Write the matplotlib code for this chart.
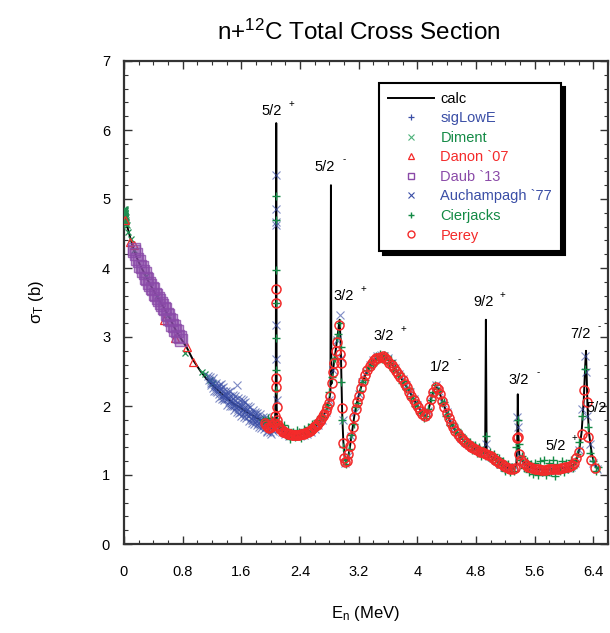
import matplotlib
matplotlib.use("Agg")
import matplotlib.pyplot as plt
from matplotlib.lines import Line2D
from matplotlib.ticker import MultipleLocator

plt.rcParams['font.family'] = ['Liberation Sans', 'DejaVu Sans']
plt.rcParams['mathtext.fontset'] = 'custom'
plt.rcParams['mathtext.rm'] = 'Liberation Sans'
plt.rcParams['mathtext.it'] = 'Liberation Sans'

# ---------------- data ----------------
calc_E = [0.00, 0.04, 0.08, 0.12, 0.17, 0.22, 0.26, 0.32, 0.40, 0.47, 0.54, 0.62, 0.72, 0.80,
          0.86, 0.94, 1.04, 1.12, 1.20, 1.30, 1.40, 1.50, 1.58, 1.66, 1.74, 1.82, 1.90, 1.98,
          2.03, 2.06, 2.070, 2.076, 2.082, 2.09, 2.10, 2.14, 2.18, 2.22, 2.26, 2.30, 2.34, 2.38,
          2.42, 2.46, 2.50, 2.54, 2.58, 2.62, 2.66, 2.70, 2.74, 2.77, 2.80, 2.815, 2.822, 2.828,
          2.84, 2.86, 2.88, 2.90, 2.92, 2.94, 2.955, 2.965, 2.975, 2.99, 3.01, 3.03, 3.05, 3.08,
          3.11, 3.14, 3.17, 3.20, 3.24, 3.28, 3.32, 3.36, 3.40, 3.44, 3.48, 3.52, 3.56, 3.60,
          3.64, 3.68, 3.72, 3.76, 3.80, 3.84, 3.88, 3.92, 3.96, 4.00, 4.04, 4.08, 4.11, 4.14,
          4.17, 4.20, 4.23, 4.26, 4.29, 4.32, 4.36, 4.40, 4.44, 4.48, 4.52, 4.56, 4.60, 4.64,
          4.68, 4.72, 4.76, 4.80, 4.84, 4.88, 4.925, 4.935, 4.945, 4.96, 5.00, 5.04, 5.08, 5.12,
          5.16, 5.20, 5.24, 5.28, 5.32, 5.35, 5.362, 5.37, 5.378, 5.39, 5.41, 5.43, 5.46, 5.50,
          5.55, 5.60, 5.65, 5.70, 5.75, 5.80, 5.85, 5.90, 5.95, 6.00, 6.05, 6.10, 6.14, 6.18,
          6.21, 6.24, 6.27, 6.29, 6.30, 6.31, 6.32, 6.34, 6.36, 6.38, 6.41, 6.45]
calc_sig = [4.76, 4.62, 4.46, 4.31, 4.16, 4.04, 3.96, 3.83, 3.68, 3.55, 3.43, 3.28, 3.07, 2.94,
            2.84, 2.67, 2.51, 2.40, 2.31, 2.21, 2.12, 2.03, 1.98, 1.92, 1.87, 1.82, 1.77, 1.73,
            1.72, 1.78, 2.2, 6.10, 2.0, 1.74, 1.70, 1.66, 1.63, 1.61, 1.60, 1.59, 1.58, 1.58,
            1.59, 1.60, 1.62, 1.64, 1.67, 1.71, 1.76, 1.82, 1.90, 1.97, 2.10, 2.20, 5.20, 2.32,
            2.40, 2.60, 2.75, 2.92, 3.10, 3.25, 2.90, 2.40, 1.90, 1.50, 1.25, 1.19, 1.22, 1.40,
            1.62, 1.85, 2.02, 2.15, 2.30, 2.42, 2.52, 2.60, 2.65, 2.69, 2.71, 2.72, 2.71, 2.67,
            2.62, 2.56, 2.50, 2.43, 2.37, 2.30, 2.23, 2.16, 2.08, 2.01, 1.94, 1.87, 1.84, 1.90,
            2.02, 2.15, 2.24, 2.27, 2.24, 2.14, 2.02, 1.90, 1.79, 1.71, 1.64, 1.58, 1.53, 1.49,
            1.45, 1.42, 1.39, 1.37, 1.35, 1.33, 1.32, 3.25, 1.31, 1.30, 1.27, 1.24, 1.21, 1.18,
            1.15, 1.12, 1.10, 1.09, 1.09, 1.15, 1.50, 2.17, 1.60, 1.30, 1.24, 1.22, 1.17, 1.13,
            1.11, 1.09, 1.08, 1.08, 1.08, 1.08, 1.09, 1.09, 1.10, 1.10, 1.11, 1.13, 1.16, 1.25,
            1.38, 1.62, 2.10, 2.60, 2.80, 2.40, 2.00, 1.62, 1.45, 1.30, 1.18, 1.10]

sigLowE_E = [0.001, 0.003, 0.005, 0.007]
sigLowE_sig = [4.76, 4.80, 4.73, 4.78]

diment_E = [0.001, 0.002, 0.003, 0.004, 0.005, 0.006, 0.007, 0.008, 0.009, 0.010, 0.011, 0.012,
            0.013, 0.014, 0.015, 0.016, 0.017, 0.018, 0.019, 0.020, 0.022, 0.025, 0.028, 0.030,
            0.040, 0.060, 0.090, 0.140, 0.300, 0.450, 0.600, 0.830, 1.060, 1.100, 1.170, 1.220]
diment_sig = [4.78, 4.82, 4.70, 4.86, 4.74, 4.78, 4.66, 4.85, 4.72, 4.74, 4.83, 4.80,
              4.69, 4.68, 4.79, 4.76, 4.84, 4.72, 4.67, 4.80, 4.74, 4.70, 4.64, 4.66,
              4.62, 4.52, 4.42, 4.26, 3.88, 3.60, 3.32, 2.77, 2.50, 2.46, 2.38, 2.33]

danon_E = [0.014, 0.08, 0.13, 0.54, 0.70, 0.855, 0.945]
danon_sig = [4.70, 4.38, 4.33, 3.25, 2.98, 2.86, 2.64]

daub_E = [0.13, 0.14, 0.16, 0.18, 0.20, 0.22, 0.24, 0.26, 0.28, 0.30, 0.32, 0.34, 0.36, 0.38,
          0.40, 0.42, 0.44, 0.46, 0.48, 0.50, 0.52, 0.54, 0.56, 0.58, 0.60, 0.62, 0.64, 0.66,
          0.68, 0.70, 0.72, 0.74, 0.76, 0.78]
daub_sig = [4.27, 4.25, 4.20, 4.13, 4.10, 4.03, 4.01, 3.95, 3.93, 3.86, 3.84, 3.78, 3.76, 3.71,
            3.69, 3.63, 3.61, 3.56, 3.54, 3.49, 3.47, 3.42, 3.40, 3.34, 3.32, 3.26, 3.24, 3.18,
            3.16, 3.10, 3.08, 3.02, 3.00, 2.95]

auch_E = [1.15, 1.16, 1.17, 1.18, 1.18, 1.19, 1.20, 1.21, 1.22, 1.23, 1.24, 1.25, 1.26, 1.26,
          1.27, 1.28, 1.29, 1.30, 1.30, 1.31, 1.32, 1.32, 1.33, 1.34, 1.35, 1.35, 1.36, 1.36,
          1.37, 1.38, 1.39, 1.40, 1.40, 1.41, 1.42, 1.42, 1.43, 1.44, 1.45, 1.45, 1.46, 1.46,
          1.47, 1.48, 1.49, 1.50, 1.50, 1.51, 1.52, 1.52, 1.53, 1.54, 1.54, 1.55, 1.55, 1.56,
          1.56, 1.57, 1.58, 1.59, 1.60, 1.60, 1.61, 1.62, 1.62, 1.62, 1.63, 1.64, 1.65, 1.65,
          1.66, 1.66, 1.67, 1.68, 1.69, 1.70, 1.70, 1.71, 1.72, 1.72, 1.73, 1.74, 1.74, 1.75,
          1.76, 1.76, 1.76, 1.77, 1.78, 1.79, 1.80, 1.81, 1.81, 1.82, 1.82, 1.83, 1.84, 1.85,
          1.86, 1.86, 1.86, 1.87, 1.88, 1.89, 1.90, 1.91, 1.92, 1.92, 1.93, 1.94, 1.95, 1.95,
          1.96, 1.96, 1.97, 1.98, 1.99, 2.00, 2.01, 2.01, 2.02, 2.02, 2.03, 2.04, 2.05, 2.06,
          2.075, 2.076, 2.077, 2.078, 2.078, 2.079, 2.080, 2.12, 2.16, 2.20, 2.25,
          2.30, 2.35, 2.40, 2.45, 2.50, 2.55, 2.60, 2.65, 2.70, 2.75, 2.80, 2.85, 2.90, 2.94,
          2.96, 2.98, 3.02, 3.06, 3.10, 3.15, 3.20, 3.25, 3.30, 3.35, 3.40, 3.45, 3.50, 3.55,
          3.60, 3.65, 3.70, 3.75, 3.80, 3.85, 3.90, 3.95, 4.00, 4.05, 4.10, 4.15, 4.20, 4.25,
          4.30, 4.35, 4.40, 4.45, 4.50, 4.55, 4.60, 4.65, 4.70, 4.75, 4.80, 4.85, 4.90, 4.935,
          4.98, 5.03, 5.08, 5.13, 5.18, 5.23, 5.28, 5.33, 5.365, 5.375, 5.40, 5.45, 5.50, 5.55,
          5.60, 5.65, 5.70, 5.75, 5.80, 5.85, 5.90, 5.95, 6.00, 6.05, 6.10, 6.15, 6.20, 6.25,
          6.29, 6.30, 6.32, 6.35, 6.40, 6.45]
auch_sig = [2.44, 2.38, 2.42, 2.30, 2.33, 2.36, 2.34, 2.40, 2.26, 2.22, 2.31, 2.34, 2.22, 2.27,
            2.20, 2.28, 2.30, 2.18, 2.12, 2.25, 2.32, 2.26, 2.15, 2.10, 2.22, 2.28, 2.12, 2.16,
            2.08, 2.18, 2.22, 2.10, 2.02, 2.16, 2.20, 2.12, 2.06, 2.00, 2.14, 2.22, 2.04, 2.08,
            2.00, 2.10, 2.16, 2.00, 1.94, 2.08, 2.14, 2.03, 1.98, 2.30, 1.92, 2.05, 2.12, 1.96,
            2.00, 1.90, 2.02, 2.10, 1.92, 1.86, 2.00, 2.08, 2.04, 1.96, 1.90, 1.84, 1.98, 2.06,
            1.88, 1.94, 1.82, 1.95, 2.00, 1.85, 1.78, 1.92, 1.98, 1.88, 1.83, 1.76, 1.80, 1.90,
            1.80, 1.94, 1.84, 1.74, 1.88, 1.92, 1.78, 1.85, 1.72, 1.90, 1.80, 1.76, 1.70, 1.82,
            1.74, 1.88, 1.78, 1.68, 1.80, 1.84, 1.72, 1.66, 1.78, 1.74, 1.84, 1.70, 1.62, 1.64,
            1.76, 1.72, 1.80, 1.68, 1.62, 1.74, 1.60, 1.80, 1.66, 1.70, 1.64, 1.72, 1.76, 1.78,
            5.35, 4.86, 4.67, 4.62, 3.17, 2.68, 2.09, 1.66, 1.62, 1.60, 1.57,
            1.56, 1.57, 1.56, 1.58, 1.60, 1.63, 1.67, 1.73, 1.80, 1.91, 2.08, 2.52, 2.95, 3.32,
            2.70, 1.80, 1.17, 1.28, 1.56, 1.92, 2.17, 2.35, 2.50, 2.60, 2.67, 2.72, 2.74, 2.73,
            2.69, 2.62, 2.55, 2.46, 2.39, 2.30, 2.20, 2.10, 2.02, 1.93, 1.86, 1.93, 2.16, 2.30,
            2.22, 2.05, 1.92, 1.78, 1.68, 1.60, 1.54, 1.48, 1.44, 1.40, 1.38, 1.35, 1.33, 1.45,
            1.28, 1.24, 1.20, 1.16, 1.12, 1.09, 1.08, 1.12, 1.84, 1.70, 1.28, 1.16, 1.12, 1.10,
            1.08, 1.06, 1.07, 1.05, 1.07, 1.08, 1.08, 1.09, 1.09, 1.10, 1.12, 1.18, 1.36, 1.95,
            2.72, 2.50, 1.85, 1.45, 1.18, 1.08]

cier_E = [1.90, 1.93, 1.96, 1.99, 2.02, 2.05, 2.071, 2.073, 2.074, 2.075, 2.076, 2.077, 2.078,
          2.09, 2.12, 2.15, 2.18, 2.21, 2.24, 2.27, 2.30, 2.33, 2.36, 2.39, 2.42, 2.45, 2.48,
          2.51, 2.54, 2.57, 2.60, 2.63, 2.66, 2.69, 2.72, 2.75, 2.78, 2.80, 2.84, 2.86, 2.88,
          2.90, 2.92, 2.94, 2.955, 2.965, 2.975, 2.99, 3.01, 3.03, 3.05, 3.07, 3.10, 3.13, 3.16,
          3.19, 3.22, 3.25, 3.28, 3.31, 3.34, 3.37, 3.40, 3.43, 3.46, 3.49, 3.52, 3.55, 3.58,
          3.61, 3.64, 3.67, 3.70, 3.73, 3.76, 3.79, 3.82, 3.85, 3.88, 3.91, 3.94, 3.97, 4.00,
          4.03, 4.06, 4.09, 4.12, 4.15, 4.18, 4.21, 4.24, 4.27, 4.30, 4.33, 4.36, 4.39, 4.42,
          4.45, 4.48, 4.51, 4.54, 4.57, 4.60, 4.63, 4.66, 4.69, 4.72, 4.75, 4.78, 4.81, 4.84,
          4.87, 4.90, 4.935, 4.96, 4.99, 5.02, 5.05, 5.08, 5.11, 5.14, 5.17, 5.20, 5.23, 5.26,
          5.29, 5.32, 5.35, 5.37, 5.385, 5.40, 5.43, 5.46, 5.49, 5.52, 5.55, 5.58, 5.61, 5.64,
          5.67, 5.70, 5.73, 5.76, 5.79, 5.82, 5.85, 5.88, 5.91, 5.94, 5.97, 6.00, 6.03, 6.06,
          6.09, 6.12, 6.15, 6.18, 6.21, 6.24, 6.29, 6.33, 6.36, 6.39, 6.43, 6.46]
cier_sig = [1.80, 1.77, 1.82, 1.74, 1.79, 1.76, 2.23, 2.52, 2.98, 3.49, 3.97, 4.70, 5.05,
            1.78, 1.74, 1.70, 1.73, 1.58, 1.66, 1.52, 1.63, 1.55, 1.65, 1.62, 1.53, 1.66, 1.60,
            1.70, 1.62, 1.74, 1.68, 1.80, 1.74, 1.86, 1.84, 1.98, 2.02, 2.20, 2.42, 2.68, 2.70,
            2.98, 3.05, 3.20, 2.85, 2.35, 1.80, 1.40, 1.22, 1.16, 1.26, 1.38, 1.58, 1.74, 1.98,
            2.05, 2.22, 2.35, 2.38, 2.52, 2.56, 2.64, 2.60, 2.72, 2.66, 2.76, 2.68, 2.74, 2.72,
            2.62, 2.66, 2.52, 2.56, 2.44, 2.48, 2.34, 2.36, 2.24, 2.26, 2.12, 2.14, 2.00, 2.04,
            1.90, 1.92, 1.82, 1.86, 1.96, 2.08, 2.20, 2.30, 2.22, 2.22, 2.04, 2.06, 1.86, 1.88,
            1.72, 1.76, 1.62, 1.66, 1.54, 1.60, 1.46, 1.52, 1.42, 1.48, 1.36, 1.44, 1.32, 1.40,
            1.28, 1.36, 1.56, 1.26, 1.34, 1.22, 1.30, 1.16, 1.24, 1.12, 1.20, 1.06, 1.16, 1.04,
            1.12, 1.06, 1.40, 1.80, 1.45, 1.22, 1.28, 1.10, 1.20, 1.04, 1.16, 1.02, 1.18, 1.00,
            1.20, 1.04, 1.22, 1.00, 1.18, 1.04, 1.22, 0.98, 1.16, 1.06, 1.20, 1.04, 1.18, 1.08,
            1.22, 1.10, 1.20, 1.30, 1.48, 1.85, 2.53, 1.70, 1.32, 1.20, 1.06, 1.12]

perey_E = [1.92, 1.94, 1.96, 1.98, 2.00, 2.02, 2.04, 2.055, 2.068, 2.070, 2.074, 2.076, 2.080,
           2.085, 2.095, 2.11, 2.13, 2.15, 2.17, 2.19, 2.21, 2.23, 2.25, 2.27, 2.29, 2.31, 2.33,
           2.35, 2.37, 2.39, 2.41, 2.43, 2.45, 2.47, 2.49, 2.51, 2.53, 2.55, 2.57, 2.59, 2.61,
           2.63, 2.65, 2.67, 2.69, 2.71, 2.73, 2.75, 2.77, 2.79, 2.81, 2.83, 2.85, 2.87, 2.89,
           2.91, 2.93, 2.95, 2.96, 2.97, 2.985, 3.00, 3.02, 3.04, 3.06, 3.08, 3.10, 3.12, 3.14,
           3.16, 3.18, 3.20, 3.23, 3.26, 3.29, 3.32, 3.35, 3.38, 3.41, 3.44, 3.47, 3.50, 3.53,
           3.56, 3.59, 3.62, 3.65, 3.68, 3.71, 3.74, 3.77, 3.80, 3.83, 3.86, 3.89, 3.92, 3.95,
           3.98, 4.01, 4.04, 4.07, 4.10, 4.13, 4.16, 4.19, 4.22, 4.25, 4.28, 4.31, 4.34, 4.37,
           4.40, 4.43, 4.46, 4.49, 4.52, 4.55, 4.58, 4.61, 4.64, 4.67, 4.70, 4.73, 4.76, 4.79,
           4.82, 4.85, 4.88, 4.91, 4.94, 4.97, 5.00, 5.03, 5.06, 5.09, 5.12, 5.15, 5.18, 5.21,
           5.24, 5.27, 5.30, 5.33, 5.36, 5.37, 5.39, 5.42, 5.45, 5.48, 5.51, 5.54, 5.57, 5.60,
           5.63, 5.66, 5.69, 5.72, 5.75, 5.78, 5.81, 5.84, 5.87, 5.90, 5.93, 5.96, 5.99, 6.02,
           6.05, 6.08, 6.11, 6.14, 6.17, 6.20, 6.24, 6.276, 6.31, 6.325, 6.37, 6.42]
perey_sig = [1.76, 1.72, 1.70, 1.68, 1.70, 1.73, 1.76, 1.85, 2.28, 2.40, 3.70, 3.49, 1.99,
             1.80, 1.72, 1.70, 1.67, 1.65, 1.63, 1.62, 1.61, 1.60, 1.59, 1.59, 1.58, 1.58, 1.58,
             1.58, 1.58, 1.58, 1.59, 1.59, 1.60, 1.61, 1.62, 1.63, 1.64, 1.65, 1.67, 1.69, 1.71,
             1.73, 1.75, 1.78, 1.81, 1.85, 1.89, 1.93, 1.98, 2.05, 2.15, 2.33, 2.50, 2.62, 2.80,
             2.93, 3.17, 2.76, 2.62, 1.97, 1.46, 1.25, 1.19, 1.20, 1.30, 1.42, 1.55, 1.70, 1.84,
             1.96, 2.06, 2.15, 2.26, 2.36, 2.45, 2.52, 2.58, 2.63, 2.66, 2.69, 2.70, 2.71, 2.72,
             2.70, 2.67, 2.63, 2.59, 2.55, 2.51, 2.47, 2.42, 2.37, 2.32, 2.27, 2.21, 2.15, 2.09,
             2.03, 1.98, 1.93, 1.88, 1.85, 1.88, 1.98, 2.10, 2.21, 2.27, 2.25, 2.17, 2.07, 1.98,
             1.90, 1.82, 1.75, 1.69, 1.64, 1.59, 1.55, 1.52, 1.49, 1.46, 1.43, 1.41, 1.39, 1.37,
             1.36, 1.34, 1.33, 1.32, 1.31, 1.29, 1.27, 1.25, 1.22, 1.20, 1.18, 1.16, 1.13, 1.11,
             1.10, 1.09, 1.09, 1.10, 1.53, 1.55, 1.30, 1.22, 1.17, 1.14, 1.12, 1.11, 1.10, 1.09,
             1.08, 1.08, 1.07, 1.07, 1.07, 1.08, 1.08, 1.08, 1.09, 1.09, 1.09, 1.10, 1.10, 1.11,
             1.12, 1.13, 1.14, 1.17, 1.24, 1.34, 1.60, 2.23, 2.06, 1.55, 1.22, 1.10]

res_labels = ["5/2", "5/2", "3/2", "3/2", "1/2", "9/2", "3/2", "5/2", "7/2", "5/2"]
res_signs = ["+", "-", "+", "+", "-", "+", "-", "+", "-", ""]
res_E = [2.015, 2.74, 3.00, 3.547, 4.31, 4.90, 5.38, 5.88, 6.22, 6.44]
res_sig = [6.27, 5.46, 3.59, 3.01, 2.57, 3.50, 2.38, 1.42, 3.04, 1.97]

legend_labels = ["calc", "sigLowE", "Diment", "Danon `07", "Daub `13", "Auchampagh `77",
                 "Cierjacks", "Perey"]

xticks = [0, 0.8, 1.6, 2.4, 3.2, 4, 4.8, 5.6, 6.4]
xtick_labels = ["0", "0.8", "1.6", "2.4", "3.2", "4", "4.8", "5.6", "6.4"]

# ---------------- styling ----------------
BLUE = '#3a4ea6'
GREEN = '#138a45'
DGREEN = '#1f8f52'
RED = '#f42a2a'
PURPLE = '#8a4aa8'

fig = plt.figure(figsize=(6.10, 6.33), dpi=100)
ax = fig.add_axes([124/610, 1 - 544/633, (608-124)/610, (544-61)/633])

ax.plot(calc_E, calc_sig, color='black', lw=1.4, zorder=2)
ax.plot(sigLowE_E, sigLowE_sig, ls='none', marker='+', ms=5, mew=0.9, color=BLUE, zorder=3)
ax.plot(diment_E, diment_sig, ls='none', marker='x', ms=5, mew=0.9, color=DGREEN, zorder=3)
ax.plot(danon_E, danon_sig, ls='none', marker='^', ms=5.5, mew=0.9, mfc='none', mec=RED, zorder=3)
ax.plot(daub_E, daub_sig, ls='none', marker='s', ms=8, mew=1.0, mfc=(0.54, 0.29, 0.66, 0.35),
        mec=(0.54, 0.29, 0.66, 0.8), zorder=3)
ax.plot(auch_E, auch_sig, ls='none', marker='x', ms=6, mew=0.8, color=BLUE, alpha=0.65, zorder=3)
ax.plot(cier_E, cier_sig, ls='none', marker='+', ms=5.5, mew=1.0, color=GREEN, zorder=4)
ax.plot(perey_E, perey_sig, ls='none', marker='o', ms=6.5, mew=1.1, mfc='none', mec=RED, zorder=5)

for lab, sg, e, s in zip(res_labels, res_signs, res_E, res_sig):
    ax.text(e, s, lab, ha='center', va='center', fontsize=10.5, zorder=6, clip_on=True)
    if sg:
        ax.annotate(sg, xy=(e, s), xytext=(14, 5.5), textcoords='offset points',
                    ha='center', va='center', fontsize=7)

ax.set_xlim(0, 6.6)
ax.set_ylim(0, 7)
ax.set_xticks(xticks)
ax.set_xticklabels(xtick_labels)
ax.xaxis.set_minor_locator(MultipleLocator(0.2))
ax.yaxis.set_major_locator(MultipleLocator(1))
ax.yaxis.set_minor_locator(MultipleLocator(0.2))
ax.tick_params(which='both', direction='in', top=True, right=True, labelsize=10.5, color='#333333')
ax.tick_params(which='major', length=6, width=1.0)
ax.tick_params(which='minor', length=3, width=0.8)
ax.tick_params(axis='x', which='major', pad=15)
ax.tick_params(axis='y', which='major', pad=10)
for sp in ax.spines.values():
    sp.set_linewidth(1.6)
    sp.set_color('#333333')

ax.set_title(r'n+$\mathregular{^{12}}$C Total Cross Section', fontsize=17.5, pad=15, x=0.485)
ax.set_xlabel(r'E$\mathregular{_n}$ (MeV)', fontsize=12, labelpad=18)
ax.set_ylabel(r'$\mathregular{\sigma_T}$ (b)', fontsize=12, labelpad=40)

handles = [
    Line2D([], [], color='black', lw=1.4),
    Line2D([], [], ls='none', marker='+', ms=5, mew=0.9, color=BLUE),
    Line2D([], [], ls='none', marker='x', ms=4.5, mew=0.8, color='#4db27a'),
    Line2D([], [], ls='none', marker='^', ms=5, mew=0.9, mfc='none', mec=RED),
    Line2D([], [], ls='none', marker='s', ms=5, mew=1.0, mfc='none', mec=PURPLE),
    Line2D([], [], ls='none', marker='x', ms=4.5, mew=0.8, color=BLUE),
    Line2D([], [], ls='none', marker='+', ms=5, mew=1.0, color=GREEN),
    Line2D([], [], ls='none', marker='o', ms=5, mew=1.0, mfc='none', mec=RED),
]
label_colors = ['black', BLUE, GREEN, RED, PURPLE, BLUE, GREEN, RED]
leg = ax.legend(handles, legend_labels, loc='upper left',
                bbox_to_anchor=((379-124)/484, (544-83)/483), borderaxespad=0,
                fontsize=10.5, labelcolor=label_colors, handlelength=3.2, handletextpad=0.4,
                labelspacing=0.38, borderpad=0.6, fancybox=False, framealpha=1,
                edgecolor='black', shadow={'color': 'black', 'alpha': 1, 'ox': 3, 'oy': -3})
leg.get_frame().set_linewidth(1.5)
leg.set_zorder(10)

fig.savefig('out.png', dpi=100)
